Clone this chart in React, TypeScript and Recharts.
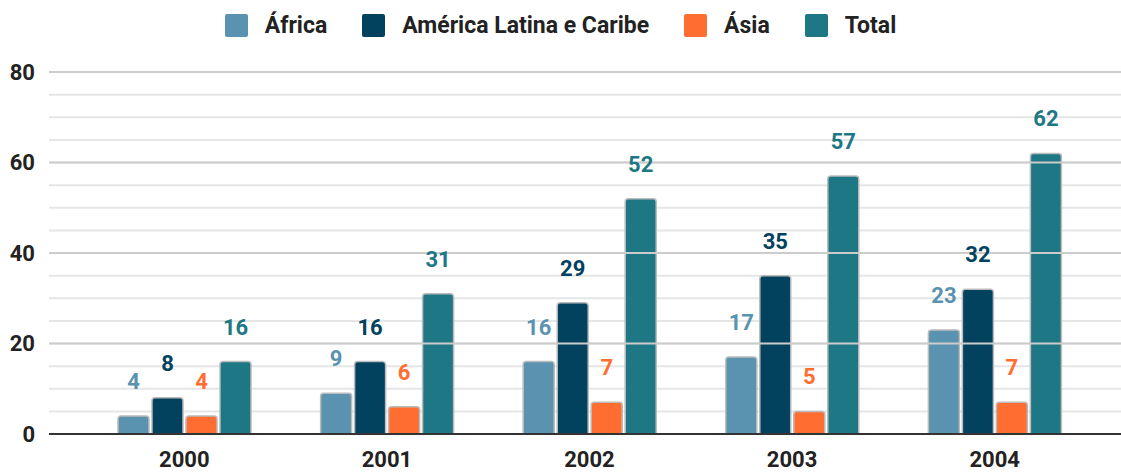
import {
  BarChart,
  Bar,
  XAxis,
  YAxis,
  CartesianGrid,
  Legend,
  LabelList,
  ReferenceLine,
} from 'recharts';

const years = ['2000', '2001', '2002', '2003', '2004'];
const africa = [4, 9, 16, 17, 23];
const latinAmerica = [8, 16, 29, 35, 32];
const asia = [4, 6, 7, 5, 7];
const total = [16, 31, 52, 57, 62];

const yTicks = [0, 5, 10, 15, 20, 25, 30, 35, 40, 45, 50, 55, 60, 65, 70, 75, 80];
const majorTicks = [20, 40, 60, 80];

const series = [
  { key: 'africa', name: 'África', color: '#5a93b0' },
  { key: 'latin', name: 'América Latina e Caribe', color: '#02425f' },
  { key: 'asia', name: 'Ásia', color: '#ff6e30' },
  { key: 'total', name: 'Total', color: '#1e7784' },
];

const data = years.map((year, i) => ({
  year,
  africa: africa[i],
  latin: latinAmerica[i],
  asia: asia[i],
  total: total[i],
}));

const FONT = 'Roboto, "Noto Sans", sans-serif';

// Legend drawn as html so the squares and spacing match
const LegendContent = () => (
  <div
    style={{
      display: 'flex',
      justifyContent: 'center',
      alignItems: 'center',
      gap: 35,
      fontFamily: FONT,
      fontWeight: 700,
      fontSize: 23,
      color: '#222',
    }}
  >
    {series.map((s) => (
      <div key={s.key} style={{ display: 'flex', alignItems: 'center' }}>
        <span
          style={{
            width: 23,
            height: 23,
            background: s.color,
            borderRadius: 2,
            display: 'inline-block',
            marginRight: 17,
          }}
        />
        <span>{s.name}</span>
      </div>
    ))}
  </div>
);

export default function App() {
  return (
    <div style={{ position: 'absolute', left: 0, top: 0, background: '#fff' }}>
      <BarChart
        width={1121}
        height={473}
        data={data}
        margin={{ top: 0, right: 0, left: 0, bottom: 0 }}
        barCategoryGap={35}
        barGap={3}
      >
        <CartesianGrid vertical={false} stroke="#e6e6e6" strokeWidth={2} />
        {majorTicks.map((t) => (
          <ReferenceLine key={t} y={t} stroke="#cccccc" strokeWidth={2} />
        ))}
        <XAxis
          dataKey="year"
          padding={{ left: 34, right: 25 }}
          height={39}
          tickLine={false}
          tickMargin={11}
          axisLine={{ stroke: '#333', strokeWidth: 2 }}
          tick={{ fill: '#222', fontSize: 22, fontWeight: 700, fontFamily: FONT }}
        />
        <YAxis
          width={49}
          domain={[0, 80]}
          ticks={yTicks}
          interval={0}
          axisLine={false}
          tickLine={false}
          tickMargin={8}
          tickFormatter={(v: number) => (v % 20 === 0 ? String(v) : '')}
          tick={{ fill: '#222', fontSize: 22, fontWeight: 700, fontFamily: FONT }}
        />
        <Legend
          verticalAlign="top"
          height={72}
          content={<LegendContent />}
          wrapperStyle={{ top: 12 }}
        />
        {series.map((s) => (
          <Bar
            key={s.key}
            dataKey={s.key}
            name={s.name}
            fill={s.color}
            stroke="#bbbbbb"
            strokeWidth={1.5}
            radius={[3, 3, 0, 0]}
            isAnimationActive={false}
          >
            <LabelList
              dataKey={s.key}
              position="top"
              offset={27}
              fill={s.color}
              style={{ fontSize: 22, fontWeight: 700, fontFamily: FONT }}
            />
          </Bar>
        ))}
      </BarChart>
    </div>
  );
}
